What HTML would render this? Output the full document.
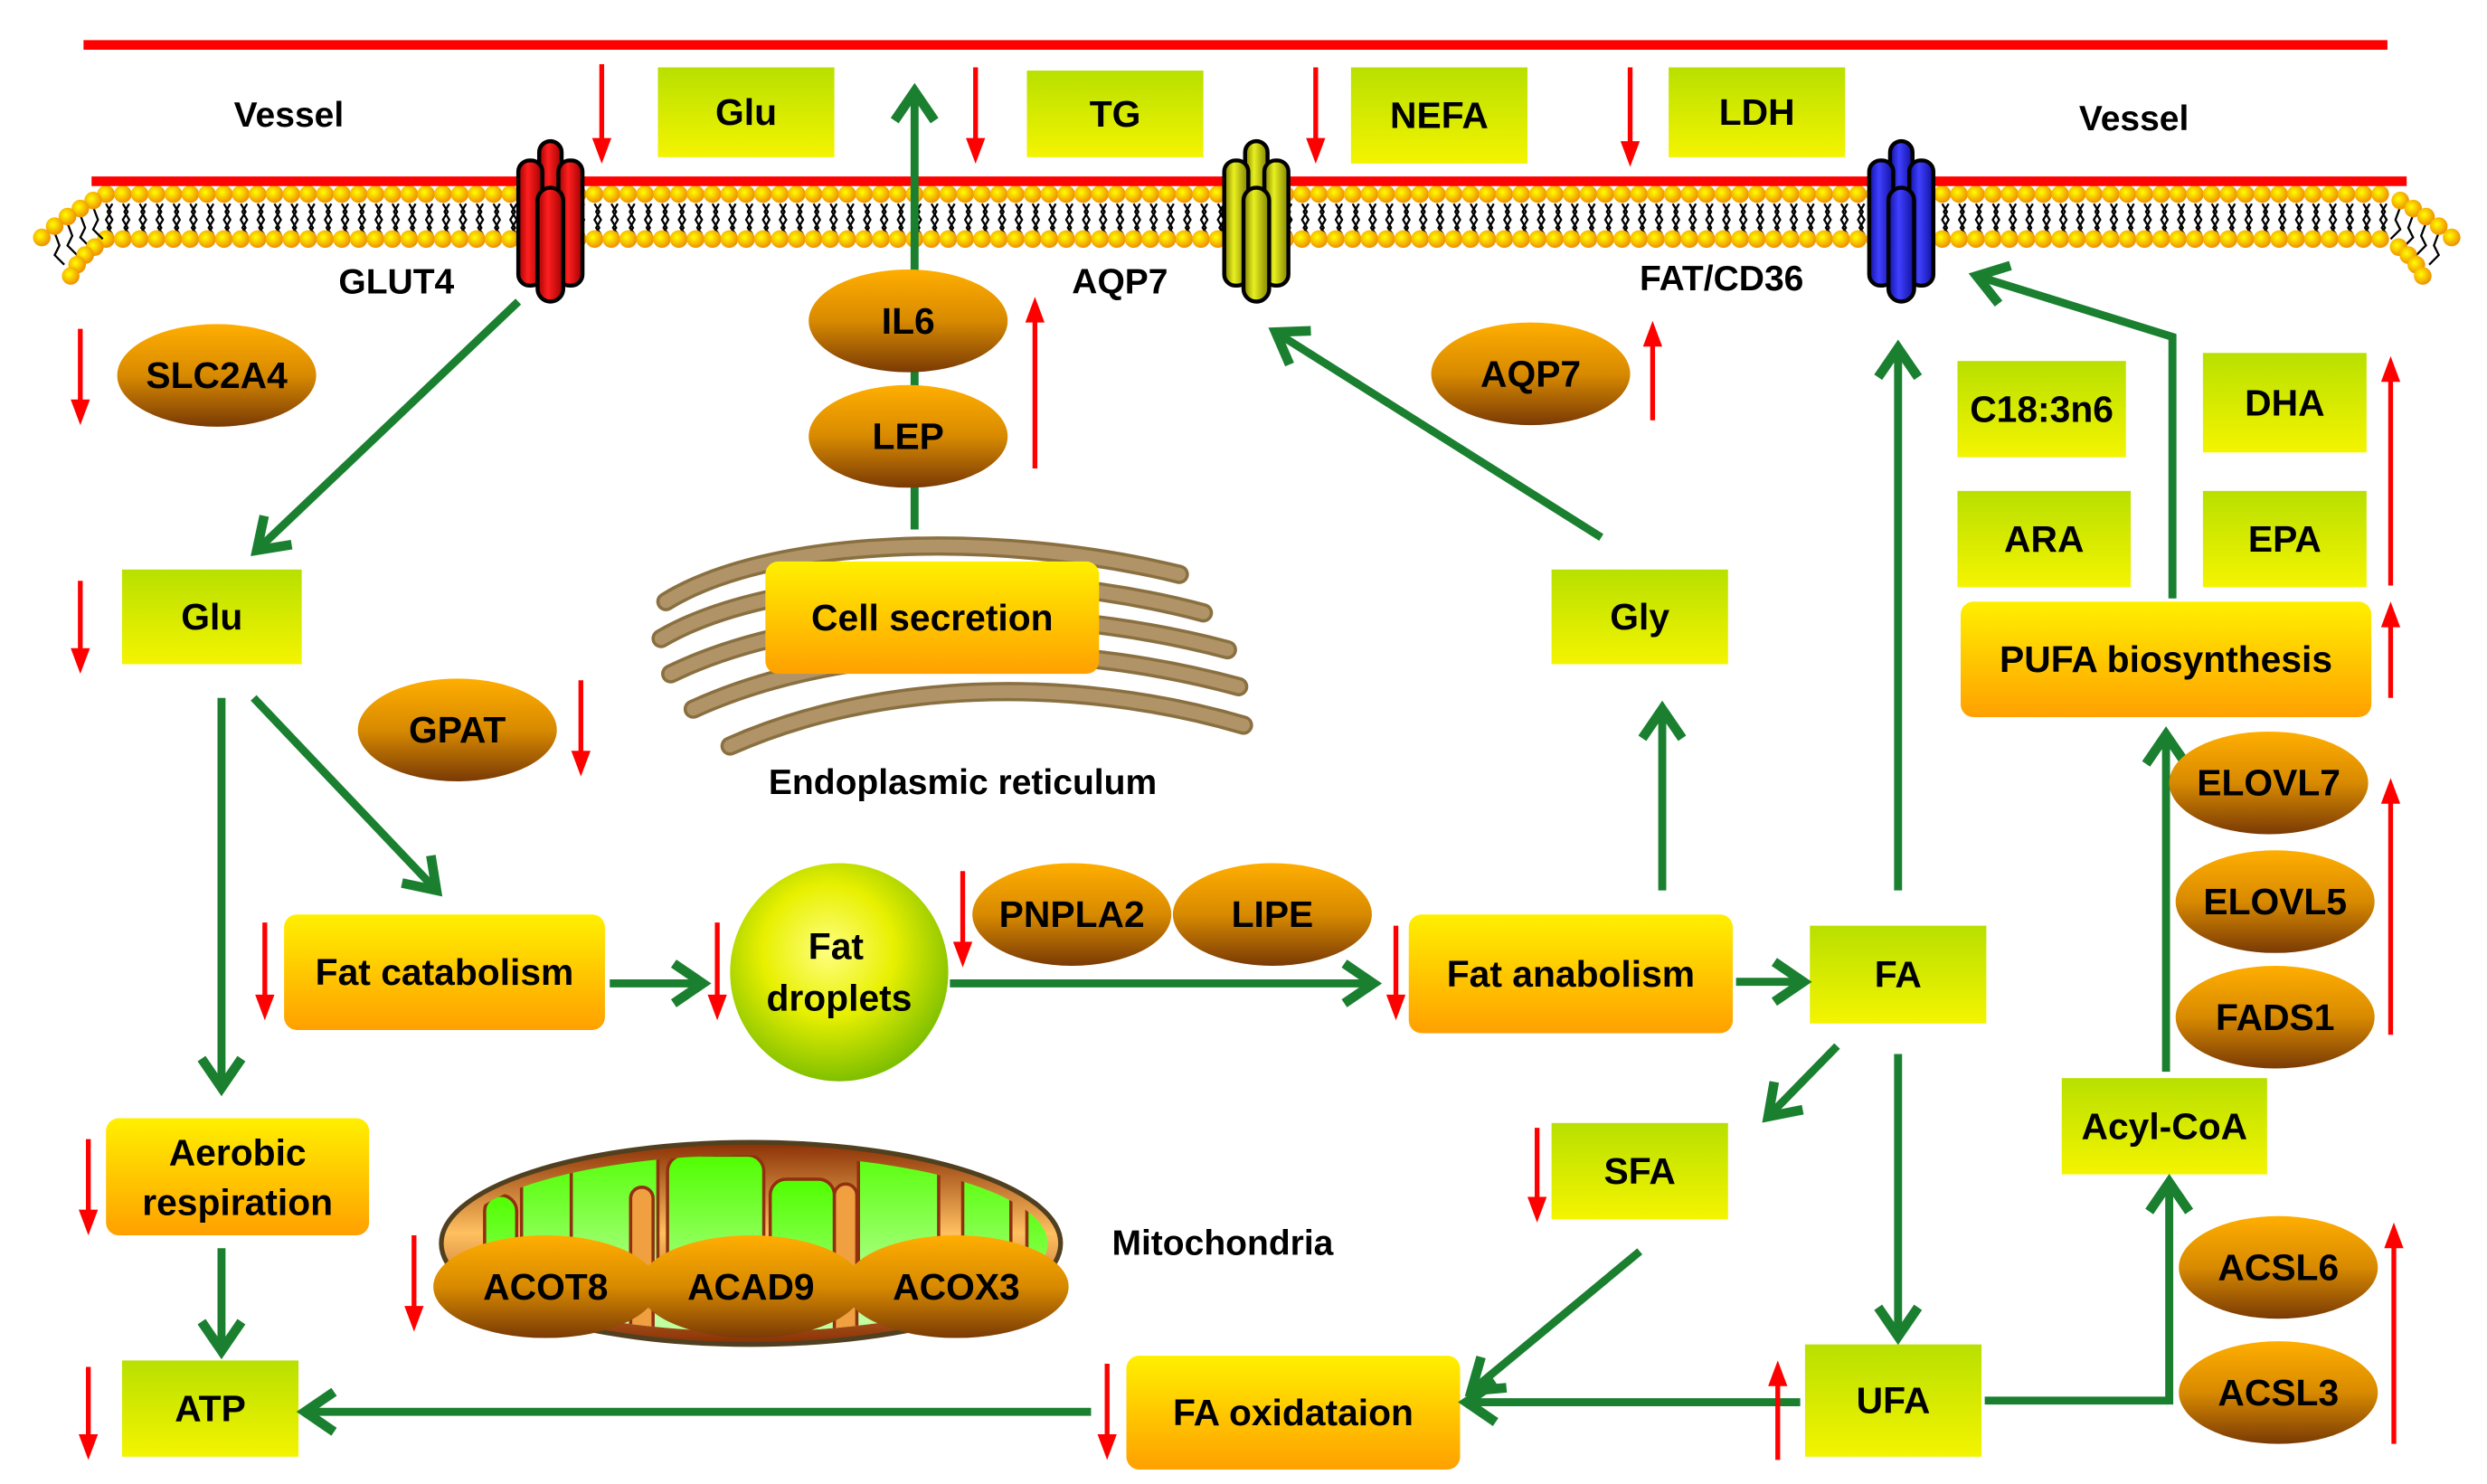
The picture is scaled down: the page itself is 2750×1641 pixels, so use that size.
<!DOCTYPE html>
<html><head><meta charset="utf-8"><style>
html,body{margin:0;padding:0;background:#fff;}
svg{display:block}
text{font-family:"Liberation Sans",Arial,sans-serif;font-weight:bold;}
</style></head><body>
<svg id="s" width="2750" height="1641" viewBox="0 0 1550 925" xmlns="http://www.w3.org/2000/svg">
<defs>
<linearGradient id="gb" x1="0" y1="0" x2="0" y2="1"><stop offset="0" stop-color="#b8e000"/><stop offset="1" stop-color="#f4f400"/></linearGradient>
<linearGradient id="ob" x1="0" y1="0" x2="0" y2="1"><stop offset="0" stop-color="#fff000"/><stop offset="1" stop-color="#ffa000"/></linearGradient>
<linearGradient id="el" x1="0" y1="0" x2="0" y2="1"><stop offset="0" stop-color="#ffae00"/><stop offset="0.5" stop-color="#d88a00"/><stop offset="1" stop-color="#7a3a05"/></linearGradient>
<radialGradient id="fd" cx="0.45" cy="0.4" r="0.6"><stop offset="0" stop-color="#ffff80"/><stop offset="0.5" stop-color="#e8f000"/><stop offset="1" stop-color="#80c000"/></radialGradient>
<radialGradient id="hd" cx="0.4" cy="0.4" r="0.6"><stop offset="0" stop-color="#ffff00"/><stop offset="1" stop-color="#f09000"/></radialGradient>
<linearGradient id="mo" x1="0" y1="0" x2="0" y2="1"><stop offset="0" stop-color="#8a3005"/><stop offset="0.45" stop-color="#ffc060"/><stop offset="1" stop-color="#8a3005"/></linearGradient>
<linearGradient id="mg" x1="0" y1="0" x2="0" y2="1"><stop offset="0" stop-color="#50ff00"/><stop offset="1" stop-color="#c0ffa0"/></linearGradient>
<linearGradient id="rc" x1="0" y1="0" x2="1" y2="0"><stop offset="0" stop-color="#a00000"/><stop offset="0.4" stop-color="#ff2020"/><stop offset="1" stop-color="#a00000"/></linearGradient>
<linearGradient id="yc" x1="0" y1="0" x2="1" y2="0"><stop offset="0" stop-color="#808000"/><stop offset="0.4" stop-color="#e8f020"/><stop offset="1" stop-color="#808000"/></linearGradient>
<linearGradient id="bc" x1="0" y1="0" x2="1" y2="0"><stop offset="0" stop-color="#1010a0"/><stop offset="0.4" stop-color="#4040ff"/><stop offset="1" stop-color="#1010a0"/></linearGradient>
<clipPath id="mc"><ellipse cx="468" cy="775" rx="185" ry="55"/></clipPath>
</defs>
<rect width="1550" height="925" fill="#fff"/>
<g id="mem"></g>
<line x1="52" y1="28" x2="1488" y2="28" stroke="#f00" stroke-width="6"/>
<line x1="57" y1="113" x2="1500" y2="113" stroke="#f00" stroke-width="6"/>
<g id="main"></g>
</svg>
<script>
var NS="http://www.w3.org/2000/svg";
function el(p,t,a,txt){var e=document.createElementNS(NS,t);for(var k in a)e.setAttribute(k,a[k]);if(txt)e.textContent=txt;p.appendChild(e);return e;}
var mem=document.getElementById('mem'),m=document.getElementById('main');
// membrane
var tails="";
for(var x=66;x<=1488;x+=10.5){
 tails+="M"+x+",127 l3,5 l-3,5 l3,5 l-3,4 M"+(x+4)+",127 l-3,5 l3,5 l-3,5 l3,4 ";
}
el(mem,'path',{d:tails,stroke:'#000','stroke-width':1.3,fill:'none'});
for(var x=66;x<=1488;x+=10.5){el(mem,'circle',{cx:x,cy:121,r:5.5,fill:'url(#hd)'});el(mem,'circle',{cx:x,cy:149,r:5.5,fill:'url(#hd)'});}
// curved ends
function end(sx,dir){
 var top=[[8,4],[16,9],[24,14],[32,20],[40,27]], bot=[[7,5],[13,10],[18,16],[22,23]];
 for(var i=0;i<4;i++){
  el(mem,'path',{d:"M"+(sx-dir*top[i][0])+","+(121+top[i][1]+4)+" l"+(dir*3)+",8 l"+(-dir*3)+",6 l"+(dir*6)+",6",stroke:'#000','stroke-width':1.3,fill:'none'});
 }
 for(var i=0;i<5;i++)el(mem,'circle',{cx:sx-dir*top[i][0],cy:121+top[i][1],r:5.5,fill:'url(#hd)'});
 for(var i=0;i<4;i++)el(mem,'circle',{cx:sx-dir*bot[i][0],cy:149+bot[i][1],r:5.5,fill:'url(#hd)'});
}
end(66,1);end(1488,-1);
// channels
function chan(cx,g){
 var s={fill:'url(#'+g+')',stroke:'#000','stroke-width':2.5};
 el(m,'rect',Object.assign({x:cx-7,y:88,width:14,height:56,rx:7},s));
 el(m,'rect',Object.assign({x:cx-20,y:100,width:15,height:78,rx:7},s));
 el(m,'rect',Object.assign({x:cx+5,y:100,width:15,height:78,rx:7},s));
 el(m,'rect',Object.assign({x:cx-8,y:117,width:16,height:71,rx:8},s));
}
chan(343,'rc');chan(783,'yc');chan(1185,'bc');
function t(x,y,s,sz,anch){el(m,'text',{x:x,y:y,'font-size':sz||23,'text-anchor':anch||'middle','dominant-baseline':'central'},s);}
t(180,72,'Vessel',22);t(1330,74,'Vessel',22);
t(247,176,'GLUT4',22);t(698,176,'AQP7',22);t(1073,174,'FAT/CD36',22);
// ER
var er=el(m,'g',{fill:'none','stroke-linecap':'round'});
[[415,375,480,335,620,330,735,358],[412,398,480,358,630,350,750,382],[418,420,500,380,640,372,765,405],[432,442,520,402,650,395,772,428],[455,465,545,425,665,420,775,452]].forEach(function(p){
 var d="M"+p[0]+","+p[1]+" C"+p[2]+","+p[3]+" "+p[4]+","+p[5]+" "+p[6]+","+p[7];
 el(er,'path',{d:d,stroke:'#8a7040','stroke-width':12});
 el(er,'path',{d:d,stroke:'#b09468','stroke-width':8});});
// mitochondria
el(m,'ellipse',{cx:468,cy:775,rx:193,ry:63,fill:'url(#mo)',stroke:'#504020','stroke-width':3});
var mg=el(m,'g',{'clip-path':'url(#mc)'});
[[302,745,20,100],[325,720,32,100],[356,712,54,100],[416,720,60,100],[480,735,40,100],[535,712,50,100],[600,722,30,100],[640,740,30,100]].forEach(function(r){
 el(mg,'rect',{x:r[0],y:r[1],width:r[2],height:r[3],rx:10,fill:'url(#mg)',stroke:'#903010','stroke-width':2});});
el(mg,'rect',{x:355,y:798,width:90,height:40,rx:10,fill:'#c0ffa0',stroke:'#903010','stroke-width':2});
el(mg,'rect',{x:462,y:800,width:95,height:40,rx:10,fill:'#c0ffa0',stroke:'#903010','stroke-width':2});
el(mg,'rect',{x:570,y:800,width:60,height:40,rx:10,fill:'#c0ffa0',stroke:'#903010','stroke-width':2});
[[393,740],[520,738]].forEach(function(w){el(mg,'rect',{x:w[0],y:w[1],width:14,height:120,rx:7,fill:'#f0a040',stroke:'#903010','stroke-width':2});});
t(762,775,'Mitochondria',22);
t(600,488,'Endoplasmic reticulum',22);
// boxes
function gb(x,y,w,h,s){el(m,'rect',{x:x,y:y,width:w,height:h,fill:'url(#gb)'});t(x+w/2,y+h/2,s);}
function ob(x,y,w,h,s,s2){el(m,'rect',{x:x,y:y,width:w,height:h,rx:8,fill:'url(#ob)'});if(s2){t(x+w/2,y+h/2-15,s);t(x+w/2,y+h/2+16,s2);}else t(x+w/2,y+h/2,s);}
function ell(cx,cy,s,rx){el(m,'ellipse',{cx:cx,cy:cy,rx:rx||62,ry:32,fill:'url(#el)'});t(cx,cy,s);}
gb(410,42,110,56,'Glu');gb(640,44,110,54,'TG');gb(842,42,110,60,'NEFA');gb(1040,42,110,56,'LDH');
gb(76,355,112,59,'Glu');gb(967,355,110,59,'Gly');gb(1128,577,110,61,'FA');gb(967,700,110,60,'SFA');
gb(1125,838,110,70,'UFA');gb(76,848,110,60,'ATP');gb(1285,672,128,60,'Acyl-CoA');
gb(1220,225,105,60,'C18:3n6');gb(1373,220,102,62,'DHA');gb(1220,306,108,60,'ARA');gb(1373,306,102,60,'EPA');
ob(477,350,208,70,'Cell secretion');ob(177,570,200,72,'Fat catabolism');ob(878,570,202,74,'Fat anabolism');
ob(66,697,164,73,'Aerobic','respiration');ob(702,845,208,71,'FA oxidataion');ob(1222,375,256,72,'PUFA biosynthesis');
el(m,'circle',{cx:523,cy:606,r:68,fill:'url(#fd)'});t(521,590,'Fat');t(523,622,'droplets');
// green arrows
function ga(pts){
 el(m,'polyline',{points:pts,fill:'none',stroke:'#1a8030','stroke-width':5,'stroke-linejoin':'miter'});
 var p=pts.split(' ').map(function(q){return q.split(',').map(Number);});
 var a=p[p.length-2],b=p[p.length-1];var ang=Math.atan2(b[1]-a[1],b[0]-a[0]);
 var L=22,W=0.6;
 var p1=[b[0]-L*Math.cos(ang-W),b[1]-L*Math.sin(ang-W)],p2=[b[0]-L*Math.cos(ang+W),b[1]-L*Math.sin(ang+W)];
 el(m,'polyline',{points:p1.join(',')+' '+b.join(',')+' '+p2.join(','),fill:'none',stroke:'#1a8030','stroke-width':6,'stroke-linecap':'butt'});
}
ga("570,330 570,57");
ga("323,188 160,343");ga("138,435 138,678");ga("158,435 272,555");ga("380,613 438,613");ga("592,613 856,613");
ga("1082,612 1124,612");ga("1036,555 1036,442");ga("998,335 795,207");ga("1183,555 1183,217");
ga("1145,652 1102,696");ga("1183,657 1183,833");ga("1122,874 914,874");ga("1022,780 917,867");
ga("680,880 190,880");ga("138,778 138,842");ga("1237,873 1352,873 1352,737");ga("1350,668 1350,458");
ga("1354,373 1354,210 1232,172");
// ellipses (after arrows)
ell(566,200,'IL6');ell(566,272,'LEP');ell(954,233,'AQP7');ell(135,234,'SLC2A4');ell(285,455,'GPAT');
ell(668,570,'PNPLA2');ell(793,570,'LIPE');
ell(340,802,'ACOT8',70);ell(468,802,'ACAD9',70);ell(596,802,'ACOX3',70);
ell(1414,488,'ELOVL7');ell(1418,562,'ELOVL5');ell(1418,634,'FADS1');ell(1420,790,'ACSL6');ell(1420,868,'ACSL3');
// red arrows
function ra(x,y1,y2){
 var d=y2>y1?1:-1;
 el(m,'line',{x1:x,y1:y1,x2:x,y2:y2-d*14,stroke:'#f00','stroke-width':3});
 el(m,'polygon',{points:(x-6)+","+(y2-d*16)+" "+(x+6)+","+(y2-d*16)+" "+x+","+y2,fill:'#f00'});
}
ra(375,40,102);ra(608,42,102);ra(820,42,102);ra(1016,42,104);
ra(645,292,185);ra(1030,262,200);ra(50,205,265);ra(50,362,420);ra(362,424,484);
ra(165,575,636);ra(447,575,636);ra(600,543,603);ra(870,577,636);ra(958,703,762);
ra(1108,910,848);ra(690,850,910);ra(55,852,910);ra(55,710,770);ra(258,770,830);
ra(1492,900,762);ra(1490,645,485);ra(1490,435,375);ra(1490,365,222);
</script>
</body></html>
